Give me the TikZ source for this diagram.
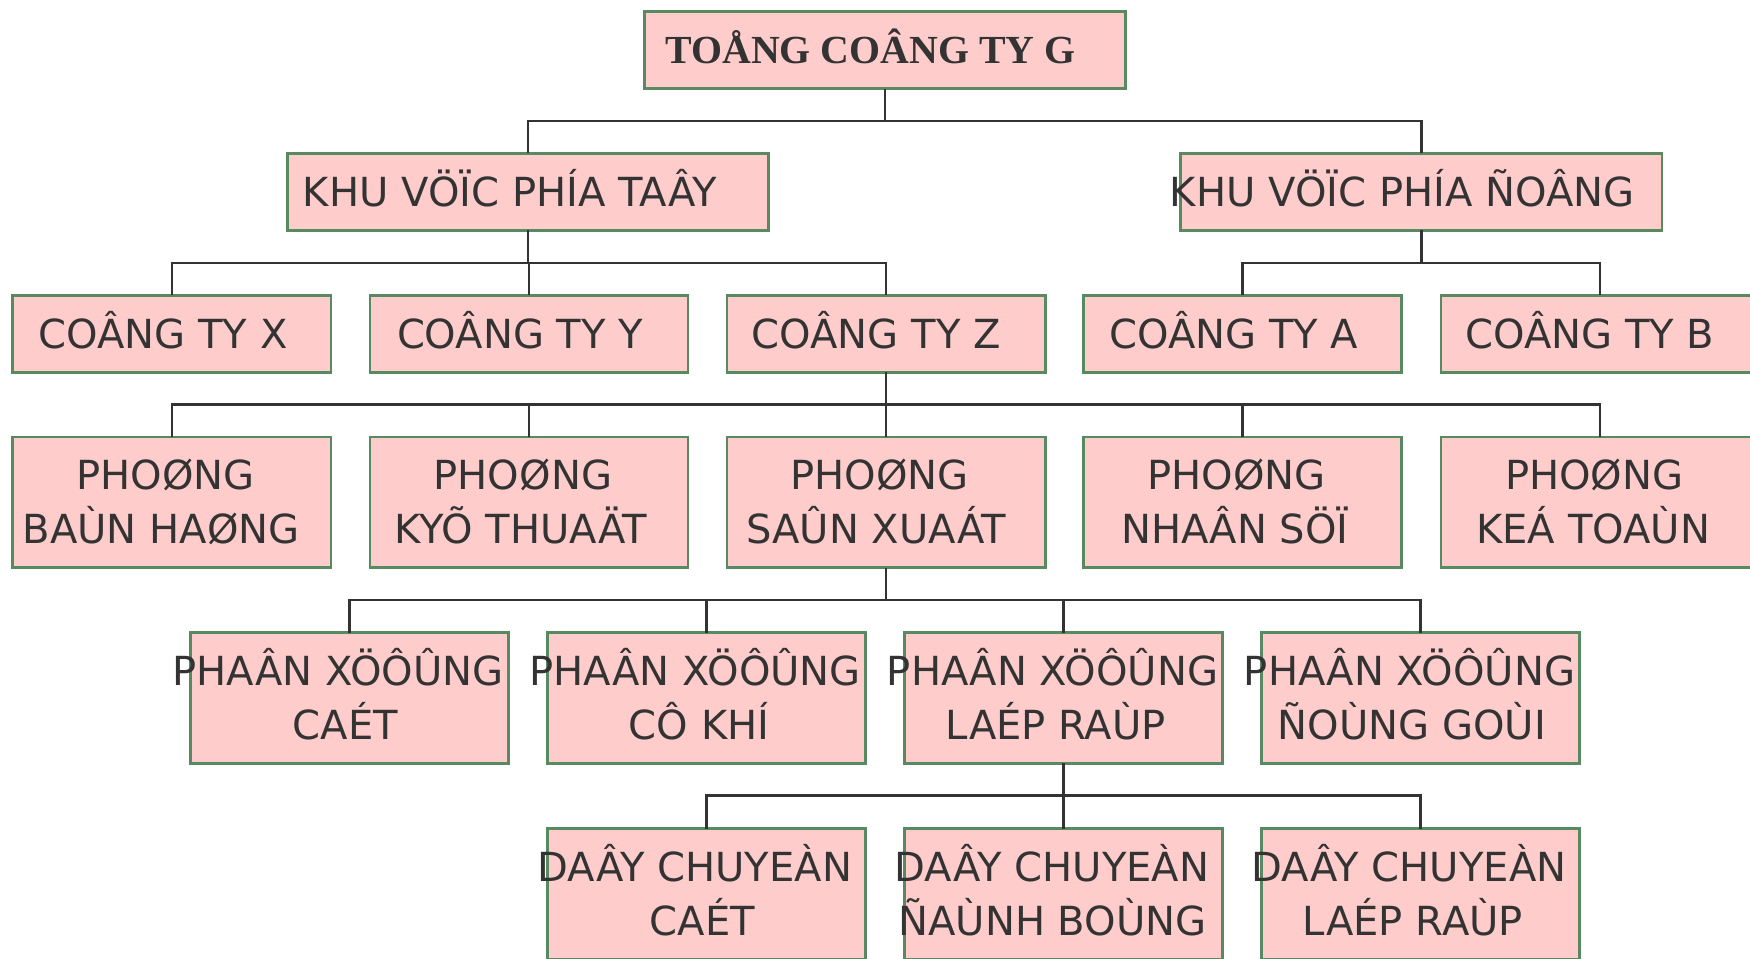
\documentclass[tikz,border=0pt]{standalone}
\usepackage{fontspec}
\setmainfont{DejaVu Sans}
\newfontfamily\titlefont{Liberation Serif}
\definecolor{bpink}{RGB}{255,204,204}
\definecolor{bgreen}{RGB}{88,138,98}
\definecolor{tgray}{RGB}{51,51,51}
\begin{document}
\begin{tikzpicture}[x=1pt,y=1pt,
  box/.style={draw=bgreen, fill=bpink, line width=2.4pt, inner sep=0pt, outer sep=0pt,
              minimum width=285pt, minimum height=69pt},
  wide/.style={minimum width=431pt},
  tall/.style={minimum height=117pt},
  txt/.style={text=tgray, inner sep=0pt, anchor=base, font=\fontsize{35.9}{42}\selectfont},
  ttl/.style={text=tgray, inner sep=0pt, anchor=base, font=\titlefont\bfseries\fontsize{35.7}{42}\selectfont},
  conn/.style={draw=tgray, line width=2.3pt}]
\clip (0,0) rectangle (1568,-859);
\fill[white] (0,0) rectangle (1568,-859);

% boxes
\node[box,wide] (G)  at (793,-45) {};
\node[box,wide] (KT) at (473,-172) {};
\node[box,wide] (KD) at (1273.5,-172) {};

\node[box] (X) at (154,-299) {};
\node[box] (Y) at (474,-299) {};
\node[box] (Z) at (794,-299) {};
\node[box] (A) at (1113.5,-299) {};
\node[box] (B) at (1433.5,-299) {};

\node[box,tall] (P1) at (154,-450) {};
\node[box,tall] (P2) at (474,-450) {};
\node[box,tall] (P3) at (794,-450) {};
\node[box,tall] (P4) at (1113.5,-450) {};
\node[box,tall] (P5) at (1433.5,-450) {};

\node[box,tall] (Q1) at (313,-625.5) {};
\node[box,tall] (Q2) at (633,-625.5) {};
\node[box,tall] (Q3) at (953,-625.5) {};
\node[box,tall] (Q4) at (1273,-625.5) {};

\node[box,tall] (R1) at (633,-801) {};
\node[box,tall] (R2) at (953,-801) {};
\node[box,tall] (R3) at (1273,-801) {};

% connectors
\foreach \p/\c in {G/KT, G/KD, KT/X, KT/Y, KT/Z, KD/A, KD/B,
                   Z/P1, Z/P2, Z/P3, Z/P4, Z/P5,
                   P3/Q1, P3/Q2, P3/Q3, P3/Q4,
                   Q3/R1, Q3/R2, Q3/R3}
  \draw[conn] (\p.south) -- ++(0,-29) -| (\c.north);

% texts
\node[ttl] (G-t)  at ([xshift=-13,yshift=-12]G.center)  {TOÅNG COÂNG TY G};
\node[txt] (KT-t) at ([xshift=-16,yshift=-13]KT.center) {KHU VÖÏC PHÍA TAÂY};
\node[txt] (KD-t) at ([xshift=-17,yshift=-13]KD.center) {KHU VÖÏC PHÍA ÑOÂNG};

\node[txt] (X-t) at ([xshift=-8,yshift=-13]X.center) {COÂNG TY X};
\node[txt] (Y-t) at ([xshift=-8,yshift=-13]Y.center) {COÂNG TY Y};
\node[txt] (Z-t) at ([xshift=-9,yshift=-13]Z.center) {COÂNG TY Z};
\node[txt] (A-t) at ([xshift=-8,yshift=-13]A.center) {COÂNG TY A};
\node[txt] (B-t) at ([xshift=-9,yshift=-13]B.center) {COÂNG TY B};

\node[txt] (P1-a) at ([xshift=-5.5,yshift=11]P1.center) {PHOØNG};
\node[txt] (P1-b) at ([xshift=-9.5,yshift=-37]P1.center) {BAÙN HAØNG};
\node[txt] (P2-a) at ([xshift=-5.5,yshift=11]P2.center) {PHOØNG};
\node[txt] (P2-b) at ([xshift=-7.5,yshift=-37]P2.center) {KYÕ THUAÄT};
\node[txt] (P3-a) at ([xshift=-6,yshift=11]P3.center) {PHOØNG};
\node[txt] (P3-b) at ([xshift=-9,yshift=-37]P3.center) {SAÛN XUAÁT};
\node[txt] (P4-a) at ([xshift=-5.5,yshift=11]P4.center) {PHOØNG};
\node[txt] (P4-b) at ([xshift=-7,yshift=-37]P4.center) {NHAÂN SÖÏ};
\node[txt] (P5-a) at ([xshift=-5,yshift=11]P5.center) {PHOØNG};
\node[txt] (P5-b) at ([xshift=-6,yshift=-37]P5.center) {KEÁ TOAÙN};

\node[txt] (Q1-a) at ([xshift=-10,yshift=11]Q1.center) {PHAÂN XÖÔÛNG};
\node[txt] (Q1-b) at ([xshift=-3.5,yshift=-37]Q1.center) {CAÉT};
\node[txt] (Q2-a) at ([xshift=-10,yshift=11]Q2.center) {PHAÂN XÖÔÛNG};
\node[txt] (Q2-b) at ([xshift=-6.5,yshift=-37]Q2.center) {CÔ KHÍ};
\node[txt] (Q3-a) at ([xshift=-10,yshift=11]Q3.center) {PHAÂN XÖÔÛNG};
\node[txt] (Q3-b) at ([xshift=-7,yshift=-37]Q3.center) {LAÉP RAÙP};
\node[txt] (Q4-a) at ([xshift=-10,yshift=11]Q4.center) {PHAÂN XÖÔÛNG};
\node[txt] (Q4-b) at ([xshift=-8,yshift=-37]Q4.center) {ÑOÙNG GOÙI};

\node[txt] (R1-a) at ([xshift=-10.5,yshift=11]R1.center) {DAÂY CHUYEÀN};
\node[txt] (R1-b) at ([xshift=-3.5,yshift=-37]R1.center) {CAÉT};
\node[txt] (R2-a) at ([xshift=-10.5,yshift=11]R2.center) {DAÂY CHUYEÀN};
\node[txt] (R2-b) at ([xshift=-10,yshift=-37]R2.center) {ÑAÙNH BOÙNG};
\node[txt] (R3-a) at ([xshift=-10.5,yshift=11]R3.center) {DAÂY CHUYEÀN};
\node[txt] (R3-b) at ([xshift=-7,yshift=-37]R3.center) {LAÉP RAÙP};
\end{tikzpicture}
\end{document}
